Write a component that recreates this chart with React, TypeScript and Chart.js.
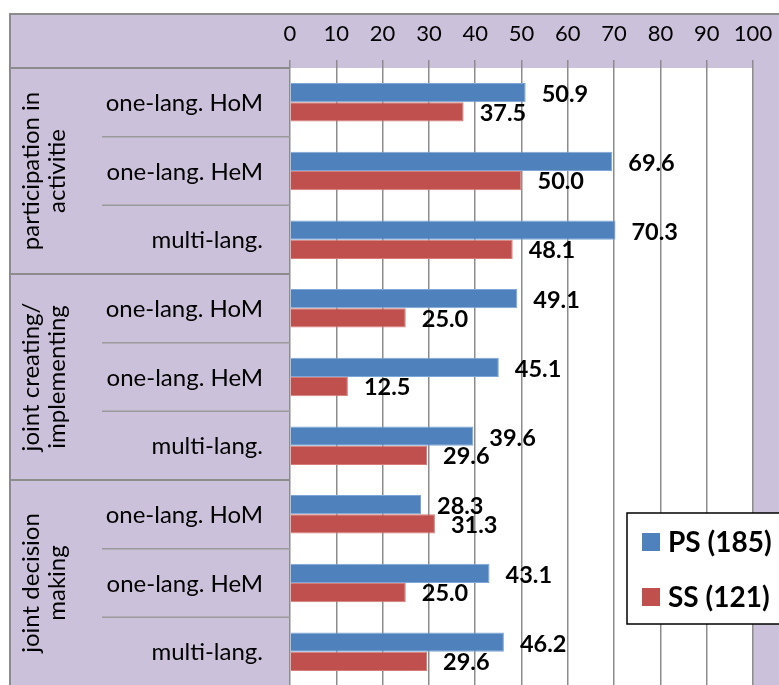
import React, { useEffect, useRef } from "react";
import { Chart, registerables } from "chart.js";

Chart.register(...registerables);

// Sub-categories (three per group), listed top to bottom
const categories = [
  "one-lang. HoM",
  "one-lang. HeM",
  "multi-lang.",
  "one-lang. HoM",
  "one-lang. HeM",
  "multi-lang.",
  "one-lang. HoM",
  "one-lang. HeM",
  "multi-lang.",
];

// Group captions, each written on two rotated lines
const groupLines = [
  ["participation in", "activitie"],
  ["joint creating/", "implementing"],
  ["joint decision", "making"],
];

const psValues = [50.9, 69.6, 70.3, 49.1, 45.1, 39.6, 28.3, 43.1, 46.2];
const ssValues = [37.5, 50.0, 48.1, 25.0, 12.5, 29.6, 31.3, 25.0, 29.6];

const seriesNames = ["PS (185)", "SS (121)"];
const seriesColors = ["#4f81bd", "#c0504d"];

const xTicks = [0, 10, 20, 30, 40, 50, 60, 70, 80, 90, 100];

const FONT = "Lato, 'Noto Sans', sans-serif";
const LAVENDER = "#ccc1da";
const GRID = "#8c8c8c";

const framePlugin = {
  id: "frame",
  beforeDraw(chart: any) {
    const { ctx, chartArea, width, height } = chart;
    ctx.save();
    ctx.fillStyle = "#ffffff";
    ctx.fillRect(0, 0, width, height);
    ctx.fillStyle = LAVENDER;
    ctx.fillRect(10, 14, width - 10, height - 14);
    ctx.fillStyle = "#ffffff";
    ctx.fillRect(
      chartArea.left,
      chartArea.top,
      chartArea.right - chartArea.left,
      chartArea.bottom - chartArea.top
    );
    ctx.restore();
  },
  afterDatasetsDraw(chart: any) {
    const { ctx } = chart;
    ctx.save();
    ctx.fillStyle = "#000000";
    ctx.font = `bold 23.5px ${FONT}`;
    ctx.textAlign = "left";
    ctx.textBaseline = "middle";
    chart.data.datasets.forEach((ds: any, i: number) => {
      const meta = chart.getDatasetMeta(i);
      meta.data.forEach((bar: any, j: number) => {
        const v = ds.data[j] as number;
        ctx.fillText(v.toFixed(1), bar.x + 16, bar.y + (i === 0 ? 2 : 1));
      });
    });
    ctx.restore();
  },
  afterDraw(chart: any) {
    const { ctx, chartArea, scales } = chart;
    const yScale = scales.y;
    const xScale = scales.x;
    const n = categories.length;
    const step = (chartArea.bottom - chartArea.top) / n;

    ctx.save();

    // x tick labels along the top header
    ctx.fillStyle = "#000000";
    ctx.font = `22px ${FONT}`;
    ctx.textAlign = "center";
    ctx.textBaseline = "middle";
    xTicks.forEach((v) => {
      ctx.fillText(String(v), xScale.getPixelForValue(v), 34);
    });

    // header separator over the label columns
    ctx.strokeStyle = GRID;
    ctx.lineWidth = 2;
    ctx.beginPath();
    ctx.moveTo(10, chartArea.top);
    ctx.lineTo(chartArea.left, chartArea.top);
    ctx.stroke();

    // row separators: full width between groups, short between sub-categories
    for (let k = 1; k < n; k++) {
      const y = chartArea.top + k * step;
      const isGroup = k % 3 === 0;
      ctx.lineWidth = isGroup ? 2 : 1.5;
      ctx.strokeStyle = isGroup ? GRID : "#9a9a9a";
      ctx.beginPath();
      ctx.moveTo(isGroup ? 10 : 102, y);
      ctx.lineTo(chartArea.left, y);
      ctx.stroke();
    }

    // sub-category labels, right aligned
    ctx.fillStyle = "#000000";
    ctx.font = `24px ${FONT}`;
    ctx.textAlign = "right";
    ctx.textBaseline = "middle";
    categories.forEach((c, j) => {
      ctx.fillText(c, 263, yScale.getPixelForValue(j) + 1);
    });

    // group captions, rotated
    ctx.textAlign = "center";
    groupLines.forEach((lines, g) => {
      const cy = chartArea.top + (g * 3 + 1.5) * step;
      ctx.save();
      ctx.translate(0, cy);
      ctx.rotate(-Math.PI / 2);
      ctx.fillText(lines[0], 0, 31);
      ctx.fillText(lines[1], 0, 57);
      ctx.restore();
    });

    // outer frame (left and top edges)
    ctx.strokeStyle = GRID;
    ctx.lineWidth = 2;
    ctx.beginPath();
    ctx.moveTo(10, chart.height);
    ctx.lineTo(10, 14);
    ctx.lineTo(chart.width, 14);
    ctx.stroke();

    // legend box
    const lx = 627;
    const ly = 513;
    ctx.fillStyle = "#ffffff";
    ctx.fillRect(lx, ly, chart.width - lx + 10, 111);
    ctx.strokeStyle = "#000000";
    ctx.lineWidth = 1.5;
    ctx.strokeRect(lx, ly, chart.width - lx + 10, 111);
    ctx.font = `bold 28px ${FONT}`;
    ctx.textAlign = "left";
    ctx.textBaseline = "middle";
    seriesNames.forEach((name, i) => {
      const cy = ly + 29 + i * 55;
      ctx.fillStyle = seriesColors[i];
      ctx.fillRect(lx + 15, cy - 9, 18, 18);
      ctx.fillStyle = "#000000";
      ctx.fillText(name, lx + 41, cy + 1);
    });

    ctx.restore();
  },
};

export default function App() {
  const canvasRef = useRef<HTMLCanvasElement | null>(null);

  useEffect(() => {
    const canvas = canvasRef.current;
    if (!canvas) return;
    const chart = new Chart(canvas, {
      type: "bar",
      data: {
        labels: categories,
        datasets: [
          {
            label: seriesNames[0],
            data: psValues,
            backgroundColor: seriesColors[0],
            borderColor: "#7ea6d6",
            borderWidth: 1,
            categoryPercentage: 0.56,
            barPercentage: 1.0,
          },
          {
            label: seriesNames[1],
            data: ssValues,
            backgroundColor: seriesColors[1],
            borderColor: "#d67c79",
            borderWidth: 1,
            categoryPercentage: 0.56,
            barPercentage: 1.0,
          },
        ],
      },
      options: {
        indexAxis: "y",
        responsive: false,
        animation: false,
        layout: { padding: { left: 0, top: 0, right: 26, bottom: 2 } },
        plugins: {
          legend: { display: false },
          tooltip: { enabled: false },
          title: { display: false },
        },
        scales: {
          x: {
            position: "top",
            min: 0,
            max: 100,
            ticks: { stepSize: 10, display: false },
            grid: {
              color: GRID,
              lineWidth: 1.5,
              drawTicks: true,
              tickLength: 8,
            },
            border: { display: false },
            afterFit: (scale: any) => {
              scale.height = 68;
            },
          },
          y: {
            ticks: { display: false },
            grid: { display: false },
            border: { display: false },
            afterFit: (scale: any) => {
              scale.width = 290;
            },
          },
        },
      },
      plugins: [framePlugin],
    });
    return () => chart.destroy();
  }, []);

  return (
    <div
      style={{
        position: "absolute",
        left: 0,
        top: 0,
        width: 779,
        height: 685,
        overflow: "hidden",
      }}
    >
      <canvas ref={canvasRef} width={779} height={688} />
    </div>
  );
}
